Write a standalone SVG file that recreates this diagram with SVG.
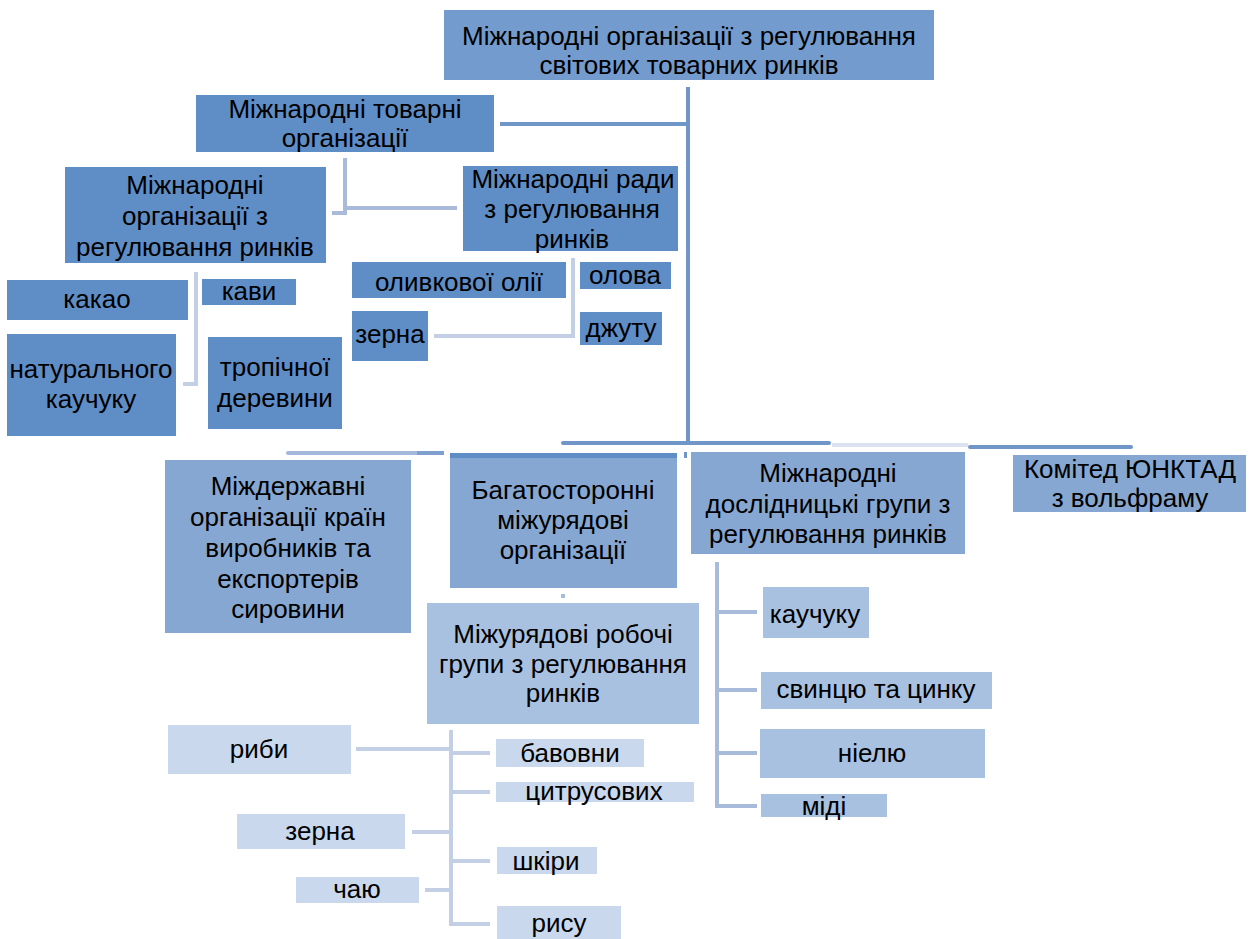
<svg xmlns="http://www.w3.org/2000/svg" width="1249" height="939" viewBox="0 0 1249 939">
<style>
text{font-family:"Liberation Sans",Arial,sans-serif;font-size:26px;fill:#000;text-anchor:middle}
.c0{fill:#739bce}
.c1{fill:#5f8dc6}
.c2{fill:#86a7d1}
.c3{fill:#a9c1e0}
.c4{fill:#c9d8ed}
.ln{fill:none;stroke-width:4}
.dk{stroke:#7096c8}
.md{stroke:#a9bbda}
.lt{stroke:#c3cfe4}
</style>
<rect width="1249" height="939" fill="#fff"/>
<g id="connectors">
<path class="ln dk" d="M688 87V443"/>
<path class="ln dk" d="M500 124H688"/>
<path class="ln md" d="M345 158V213H332M345 208H457"/>
<path class="ln lt" d="M196 272V384H183"/>
<path class="ln lt" d="M573 258V336H434"/>
<path class="ln dk" stroke-linecap="round" d="M563 443H829"/>
<path class="ln" stroke="#a3b8da" stroke-linecap="round" d="M288 453H417"/>
<path class="ln" stroke="#7f9fcf" d="M417 453H444"/>
<rect x="684" y="452" width="3" height="6" fill="#7096c8"/>
<path class="ln" stroke="#dbe3f0" stroke-width="2" d="M832 445H968"/>
<path class="ln dk" stroke-linecap="round" d="M970 447H1131"/>
<rect x="561" y="594" width="4" height="4" fill="#a9bbda"/>
<path class="ln md" d="M717 562V806H757M717 612H757M717 690H757M717 753H757"/>
<path class="ln lt" d="M451 730V924H490M451 753H490M451 792H490M451 861H490M356 749H451M412 832H451M425 890H451"/>
</g>
<g id="n-root"><rect class="c0" x="444" y="10" width="490" height="70"/><text x="689" y="45">Міжнародні організації з регулювання</text><text x="689" y="74">світових товарних ринків</text></g>
<g id="n-commodity"><rect class="c1" x="196" y="95" width="298" height="57"/><text x="345" y="118">Міжнародні товарні</text><text x="345" y="147">організації</text></g>
<g id="n-orgs"><rect class="c1" x="65" y="167" width="261" height="96"/><text x="195" y="194">Міжнародні</text><text x="195" y="225">організації з</text><text x="195" y="256">регулювання ринків</text></g>
<g id="n-councils"><rect class="c1" x="463" y="166" width="215" height="85"/><text x="573" y="188">Міжнародні ради</text><text x="572" y="218">з регулювання</text><text x="572" y="248">ринків</text></g>
<g id="n-cocoa"><rect class="c1" x="7" y="280" width="181" height="40"/><text x="97" y="308">какао</text></g>
<g id="n-coffee"><rect class="c1" x="202" y="279" width="94" height="26"/><text x="249" y="300">кави</text></g>
<g id="n-rubber"><rect class="c1" x="7" y="334" width="169" height="102"/><text x="91" y="378">натурального</text><text x="91" y="408">каучуку</text></g>
<g id="n-timber"><rect class="c1" x="208" y="337" width="134" height="92"/><text x="275" y="376">тропічної</text><text x="275" y="407">деревини</text></g>
<g id="n-olive"><rect class="c1" x="352" y="262" width="214" height="36"/><text x="459" y="291">оливкової олії</text></g>
<g id="n-tin"><rect class="c1" x="580" y="262" width="91" height="27"/><text x="625" y="284">олова</text></g>
<g id="n-grain1"><rect class="c1" x="352" y="311" width="76" height="50"/><text x="390" y="343">зерна</text></g>
<g id="n-jute"><rect class="c1" x="580" y="312" width="82" height="33"/><text x="621" y="337">джуту</text></g>
<g id="n-interstate"><rect class="c2" x="165" y="460" width="246" height="173"/><text x="288" y="495">Міждержавні</text><text x="288" y="526">організації країн</text><text x="288" y="557">виробників та</text><text x="288" y="588">експортерів</text><text x="288" y="618">сировини</text></g>
<g id="n-multilateral"><rect class="c2" x="450" y="453" width="227" height="135"/><rect class="c1" x="450" y="453" width="227" height="5"/><text x="563" y="499">Багатосторонні</text><text x="563" y="529">міжурядові</text><text x="563" y="559">організації</text></g>
<g id="n-study"><rect class="c2" x="691" y="452" width="274" height="102"/><text x="828" y="482">Міжнародні</text><text x="828" y="513">дослідницькі групи з</text><text x="828" y="543">регулювання ринків</text></g>
<g id="n-unctad"><rect class="c2" x="1013" y="455" width="233" height="57"/><text x="1130" y="478">Комітед ЮНКТАД</text><text x="1130" y="507">з вольфраму</text></g>
<g id="n-working"><rect class="c3" x="427" y="603" width="272" height="121"/><text x="563" y="643">Міжурядові робочі</text><text x="563" y="673">групи з регулювання</text><text x="563" y="702">ринків</text></g>
<g id="n-rubber2"><rect class="c3" x="763" y="587" width="106" height="51"/><text x="815" y="623">каучуку</text></g>
<g id="n-lead"><rect class="c3" x="761" y="672" width="231" height="37"/><text x="876" y="698">свинцю та цинку</text></g>
<g id="n-nickel"><rect class="c3" x="760" y="729" width="225" height="49"/><text x="872" y="762">ніелю</text></g>
<g id="n-copper"><rect class="c3" x="761" y="794" width="126" height="23"/><text x="824" y="815">міді</text></g>
<g id="n-fish"><rect class="c4" x="168" y="725" width="183" height="49"/><text x="259" y="758">риби</text></g>
<g id="n-cotton"><rect class="c4" x="496" y="739" width="148" height="28"/><text x="570" y="762">бавовни</text></g>
<g id="n-citrus"><rect class="c4" x="496" y="782" width="198" height="20"/><text x="594" y="800">цитрусових</text></g>
<g id="n-grain2"><rect class="c4" x="237" y="814" width="168" height="35"/><text x="320" y="840">зерна</text></g>
<g id="n-hides"><rect class="c4" x="497" y="847" width="100" height="27"/><text x="546" y="870">шкіри</text></g>
<g id="n-tea"><rect class="c4" x="296" y="877" width="123" height="26"/><text x="357" y="898">чаю</text></g>
<g id="n-rice"><rect class="c4" x="497" y="906" width="124" height="33"/><text x="559" y="932">рису</text></g>
</svg>
